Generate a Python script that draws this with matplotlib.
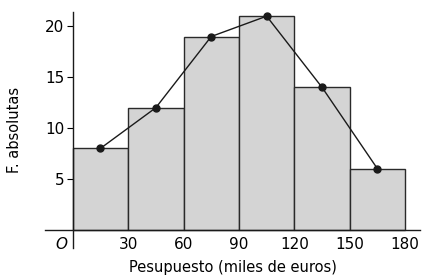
import numpy as np
import matplotlib.pyplot as plt

bin_edges = [0, 30, 60, 90, 120, 150, 180]
counts = [8, 12, 19, 21, 14, 6]
x_ticks = [30, 60, 90, 120, 150, 180]
y_ticks = [5, 10, 15, 20]

edges = np.array(bin_edges)
mids = (edges[:-1] + edges[1:]) / 2
widths = np.diff(edges)

fig = plt.figure(figsize=(4.25, 2.75), dpi=100)
ax = fig.add_axes([0.106, 0.098, 0.882, 0.858])

ax.bar(edges[:-1], counts, width=widths, align='edge',
       color='#d4d4d4', edgecolor='#2a2a2a', linewidth=1.0, zorder=2)
ax.plot(mids, counts, color='#1a1a1a', linewidth=1.0, marker='o',
        markersize=5, zorder=3)

ax.set_xlim(-15, 188)
ax.set_ylim(-1.8, 21.4)

ax.spines['left'].set_position(('data', 0))
ax.spines['bottom'].set_position(('data', 0))
ax.spines['right'].set_visible(False)
ax.spines['top'].set_visible(False)
for s in ['left', 'bottom']:
    ax.spines[s].set_color('#1a1a1a')
    ax.spines[s].set_linewidth(1.0)
    ax.spines[s].set_zorder(4)

ax.set_xticks(x_ticks)
ax.set_yticks(y_ticks)
ax.tick_params(axis='x', length=0, labelsize=11, pad=5)
ax.tick_params(axis='y', length=4, labelsize=11, pad=2)
ax.text(-3, -0.7, 'O', ha='right', va='top', fontsize=11, style='italic')

ax.set_xlabel('Pesupuesto (miles de euros)', fontsize=10.5, labelpad=6)
ax.set_ylabel('F. absolutas', fontsize=10.5)
ax.yaxis.set_label_coords(-0.062, 0.5)

fig.savefig('out.png', dpi=100)
